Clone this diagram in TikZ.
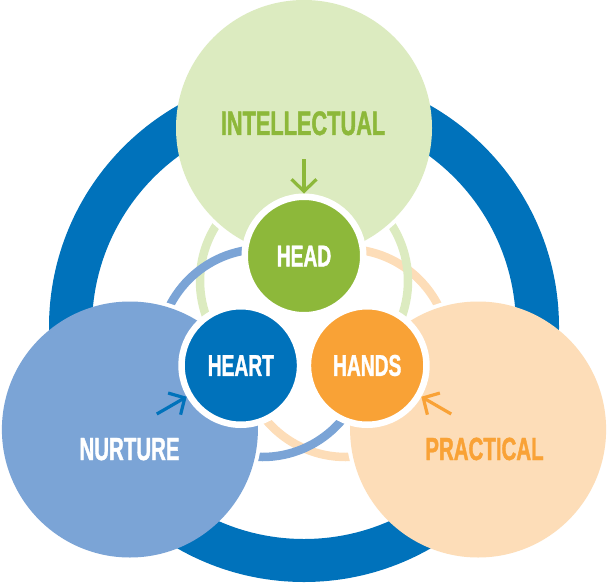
\documentclass[tikz,border=0pt]{standalone}
\usepackage{fontspec}
\newfontfamily\lab{Liberation Sans}[FakeStretch=0.64,FakeBold=1.2]
\usetikzlibrary{arrows.meta}
\definecolor{ringblue}{HTML}{0072BB}
\definecolor{intbg}{HTML}{DCEBC0}
\definecolor{headgreen}{HTML}{8DB83A}
\definecolor{nurbg}{HTML}{7BA4D6}
\definecolor{pracbg}{HTML}{FDDDB8}
\definecolor{handsor}{HTML}{F9A236}
\begin{document}
\begin{tikzpicture}[x=1pt,y=1pt,
  thinring/.style={line width=8.5pt},
  bigcirc/.style={circle, inner sep=0pt, minimum size=256pt},
  smallcirc/.style={circle, inner sep=0pt, minimum size=118.5pt, draw=white,
    line width=6.5pt, text=white, font=\lab\bfseries\fontsize{30pt}{30pt}\selectfont},
  biglab/.style={anchor=base, inner sep=0pt, font=\lab\bfseries\fontsize{32pt}{32pt}\selectfont},
  arr/.style={line width=3.2pt, -{Straight Barb[length=12pt,width=25pt]}}
]
\useasboundingbox (0,0) rectangle (607,-583);
% thin rings
\draw[thinring, pracbg] (345.6,-353) circle[radius=104pt];
\draw[thinring, intbg] (304,-281) circle[radius=104pt];
\draw[thinring, nurbg] (262.4,-353) circle[radius=104pt];
% inner parts of the rings are hidden
\fill[white] (304,-329) circle[radius=78pt];
% white halos of the big circles
\fill[white] (304,-128) circle[radius=132pt];
\fill[white] (129.9,-429.5) circle[radius=132pt];
\fill[white] (478.1,-429.5) circle[radius=132pt];
% big ring
\draw[ringblue, line width=43pt] (304,-327) circle[radius=233.5pt];
% big circles
\node[bigcirc, fill=intbg] (intel) at (304,-128) {};
\node[bigcirc, fill=nurbg] (nurt) at (129.9,-429.5) {};
\node[bigcirc, fill=pracbg] (prac) at (478.1,-429.5) {};
\node[biglab, text=headgreen, font=\lab\bfseries\fontsize{34pt}{34pt}\selectfont] (intellab) at (303,-135) {INTELLECTUAL};
\node[biglab, text=white] (nurtlab) at (129.5,-460) {NURTURE};
\node[biglab, text=handsor] (praclab) at (484.5,-460) {PRACTICAL};
% small circles
\node[smallcirc, fill=headgreen] (head) at (304,-256) {HEAD};
\node[smallcirc, fill=ringblue] (heart) at (240.8,-365.5) {HEART};
\node[smallcirc, fill=handsor] (hands) at (367.2,-365.5) {HANDS};
% arrows
\coordinate (ia) at (304,-159);
\coordinate (na) at (156.8,-414);
\coordinate (pa) at (451.2,-414);
\draw[arr, headgreen] (ia) -- (head);
\draw[arr, ringblue] (na) -- (heart);
\draw[arr, handsor] (pa) -- (hands);
\end{tikzpicture}
\end{document}
